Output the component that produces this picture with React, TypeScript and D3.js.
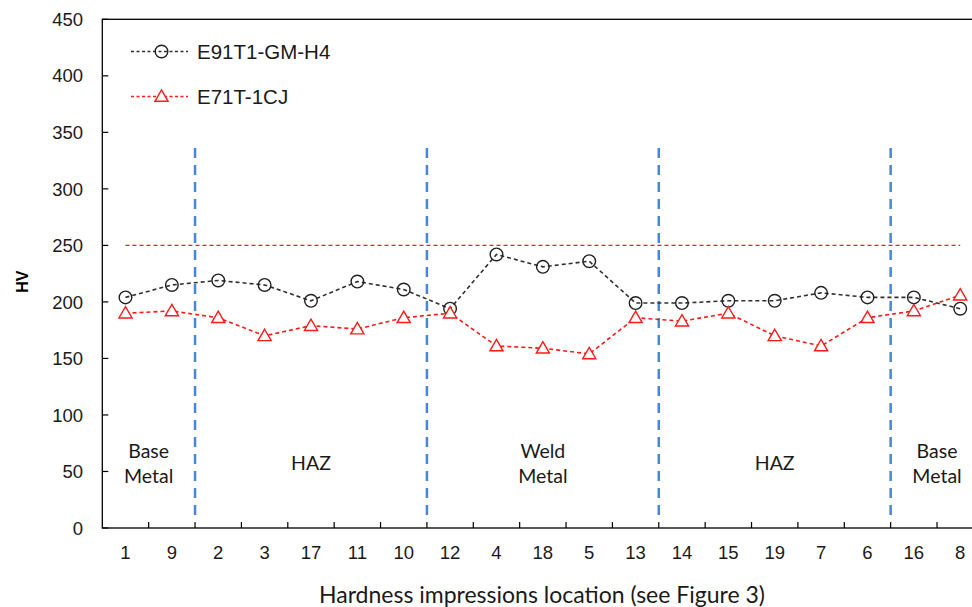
import React from "react";
import * as d3 from "d3";

const categories = ["1","9","2","3","17","11","10","12","4","18","5","13","14","15","19","7","6","16","8"];
const seriesE91 = [204,215,219,215,201,218,211,194,242,231,236,199,199,201,201,208,204,204,194];
const seriesE71 = [190,192,186,170,179,176,186,190,161,159,154,186,183,190,170,161,186,192,206];
const limitValue = 250;
const yTicks = [0,50,100,150,200,250,300,350,400,450];
const boundaries = [2, 7, 12, 17]; // boundary after index (0-based count)
const regions = [
  { lines: ["Base", "Metal"], from: 0, to: 2 },
  { lines: ["HAZ"], from: 2, to: 7 },
  { lines: ["Weld", "Metal"], from: 7, to: 12 },
  { lines: ["HAZ"], from: 12, to: 17 },
  { lines: ["Base", "Metal"], from: 17, to: 19 },
];
const legendItems = [
  { name: "E91T1-GM-H4", color: "#303030", marker: "circle" },
  { name: "E71T-1CJ", color: "#FF1A1A", marker: "triangle" },
];

const W = 972, H = 607;
const left = 102.3, right = 983.4, top = 19.3, bottom = 528;

export default function App() {
  const x = d3.scaleBand<string>().domain(categories).range([left, right]).padding(0);
  const xc = (i: number) => (x(categories[i]) as number) + x.bandwidth() / 2;
  const y = d3.scaleLinear().domain([0, 450]).range([bottom, top]);
  const bx = (k: number) => left + k * x.bandwidth();

  const line = d3.line<number>().x((_, i) => xc(i)).y((d) => y(d));
  const tri = d3.symbol().type(d3.symbolTriangle).size(75)();
  const arial = "Arial, 'Liberation Sans', sans-serif";
  const calibri = "Lato, 'Open Sans', sans-serif";

  const triPath = (cx: number, cy: number, color: string, key: any) => (
    <path key={key} d={tri as string} transform={`translate(${cx},${cy + 1})`} fill="white" stroke={color} strokeWidth={1.4} />
  );

  return (
    <svg width={W} height={H} style={{ position: "absolute", left: 0, top: 0, display: "block" }}>
      <rect x={0} y={0} width={W} height={H} fill="white" />
      {/* plot border */}
      <rect x={left} y={top} width={right - left} height={bottom - top} fill="none" stroke="#000" strokeWidth={1.3} />
      {/* y ticks */}
      {yTicks.map((t) => (
        <g key={t}>
          <line x1={left} x2={left + 6} y1={y(t)} y2={y(t)} stroke="#000" strokeWidth={1.2} />
          <text x={83} y={y(t)} dy="0.36em" textAnchor="end" fontFamily={arial} fontSize={18.5} fill="#1a1a1a">{t}</text>
        </g>
      ))}
      {/* x ticks */}
      {categories.map((c, i) => (
        <g key={c + i}>
          {i > 0 && <line x1={bx(i)} x2={bx(i)} y1={bottom} y2={bottom - 6} stroke="#000" strokeWidth={1.2} />}
          <text x={xc(i)} y={552} dy="0.36em" textAnchor="middle" fontFamily={arial} fontSize={18.5} fill="#1a1a1a">{c}</text>
        </g>
      ))}
      {/* axis titles */}
      <text x={542} y={595} dy="0.36em" textAnchor="middle" fontFamily={calibri} fontSize={23} fill="#1a1a1a">Hardness impressions location (see Figure 3)</text>
      <text transform={`translate(22,${(top + bottom) / 2 + 8}) rotate(-90)`} textAnchor="middle" dy="0.36em" fontFamily={arial} fontWeight="bold" fontSize={16} fill="#000">HV</text>
      {/* boundaries */}
      {boundaries.map((b) => (
        <line key={b} x1={bx(b)} x2={bx(b)} y1={148} y2={522} stroke="#4A86D8" strokeWidth={2.5} strokeDasharray="10,7" />
      ))}
      {/* region labels */}
      {regions.map((r, i) => {
        const cx = (bx(r.from) + bx(r.to)) / 2;
        const n = r.lines.length;
        const cy = 463;
        return (
          <text key={i} x={cx} textAnchor="middle" fontFamily={calibri} fontSize={19.5} fill="#1a1a1a">
            {r.lines.map((l, j) => (
              <tspan key={j} x={cx} y={cy + (j - (n - 1) / 2) * 25} dy="0.36em">{l}</tspan>
            ))}
          </text>
        );
      })}
      {/* limit line */}
      <path d={line(categories.map(() => limitValue)) as string} fill="none" stroke="#FF1A1A" strokeWidth={1.3} strokeDasharray="4,3" />
      {/* series */}
      <path d={line(seriesE91) as string} fill="none" stroke="#303030" strokeWidth={1.6} strokeDasharray="4,3" />
      <path d={line(seriesE71) as string} fill="none" stroke="#FF1A1A" strokeWidth={1.6} strokeDasharray="4,3" />
      {seriesE91.map((v, i) => (
        <circle key={"c" + i} cx={xc(i)} cy={y(v)} r={6.3} fill="none" stroke="#202020" strokeWidth={1.4} />
      ))}
      {seriesE71.map((v, i) => triPath(xc(i), y(v), "#FF1A1A", "t" + i))}
      {/* legend */}
      {legendItems.map((it, i) => {
        const ly = 51.5 + i * 45;
        return (
          <g key={it.name}>
            <line x1={131} x2={188} y1={ly} y2={ly} stroke={it.color} strokeWidth={1.3} strokeDasharray="3,2.5" />
            {it.marker === "circle"
              ? <circle cx={161.5} cy={ly} r={6.3} fill="none" stroke="#202020" strokeWidth={1.4} />
              : triPath(161.5, ly, "#FF1A1A", "lt")}
            <text x={197} y={ly} dy="0.36em" fontFamily={arial} fontSize={20.5} fill="#1a1a1a">{it.name}</text>
          </g>
        );
      })}
    </svg>
  );
}
